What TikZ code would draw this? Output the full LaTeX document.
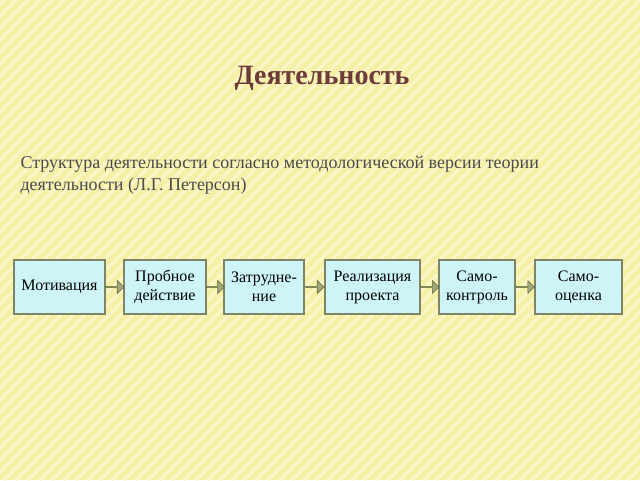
\documentclass[tikz,border=0pt]{standalone}
\usepackage{fontspec}
\setmainfont{Liberation Serif}
\usetikzlibrary{shapes.arrows,calc}
\definecolor{bg}{HTML}{F6EFA6}
\definecolor{stripe}{HTML}{FBF6C8}
\definecolor{boxf}{HTML}{CDF5F8}
\definecolor{boxd}{HTML}{7F8466}
\definecolor{titc}{HTML}{6E3B3B}
\definecolor{txt}{HTML}{4A4A4A}
\definecolor{arrf}{HTML}{A3A77E}
\definecolor{arrd}{HTML}{5F6A3A}
\tikzset{
 stepbox/.style={draw=boxd,line width=1.6pt,fill=boxf,inner sep=0pt,align=center,font=\fontsize{16}{19}\selectfont,text=black},
 blk/.style={single arrow,draw=arrd,fill=arrf,line width=0.6pt,minimum height=18pt,minimum width=13pt,single arrow head extend=3pt,inner sep=0pt}
}
\begin{document}
\begin{tikzpicture}[x=1pt,y=1pt]
\fill[bg] (0,0) rectangle (640,480);
\begin{scope}
\clip (0,0) rectangle (640,480);
\foreach \i in {-500,-488,...,640} \draw[stripe,line width=3pt] (\i,0) -- (\i+480,480);
\end{scope}
\useasboundingbox (0,0) rectangle (640,480);
\node[font=\bfseries\fontsize{28}{32}\selectfont,text=titc] (title) at (322,402) {Деятельность};
\node[anchor=north west,align=left,text=txt,font=\fontsize{18}{22}\selectfont] (sub) at (17,327) {Структура деятельности согласно методологической версии теории\\деятельности (Л.Г. Петерсон)};
\node[stepbox,minimum width=91pt,minimum height=54pt] (a) at (59.5,193) {Мотивация};
\node[stepbox,minimum width=82pt,minimum height=54pt] (b) at (165,193) {Пробное\\действие};
\node[stepbox,minimum width=80pt,minimum height=54pt] (c) at (264,193) {Затрудне-\\ние};
\node[stepbox,minimum width=95pt,minimum height=54pt] (d) at (372.5,193) {Реализация\\проекта};
\node[stepbox,minimum width=76pt,minimum height=54pt] (e) at (477,193) {Само-\\контроль};
\node[stepbox,minimum width=87pt,minimum height=54pt] (f) at (578.5,193) {Само-\\оценка};
\foreach \p/\q/\n in {a/b/ab,b/c/bc,c/d/cd,d/e/de,e/f/ef}
  \node[blk] (\n) at ($(\p.east)!0.5!(\q.west)$) {};
\end{tikzpicture}
\end{document}
